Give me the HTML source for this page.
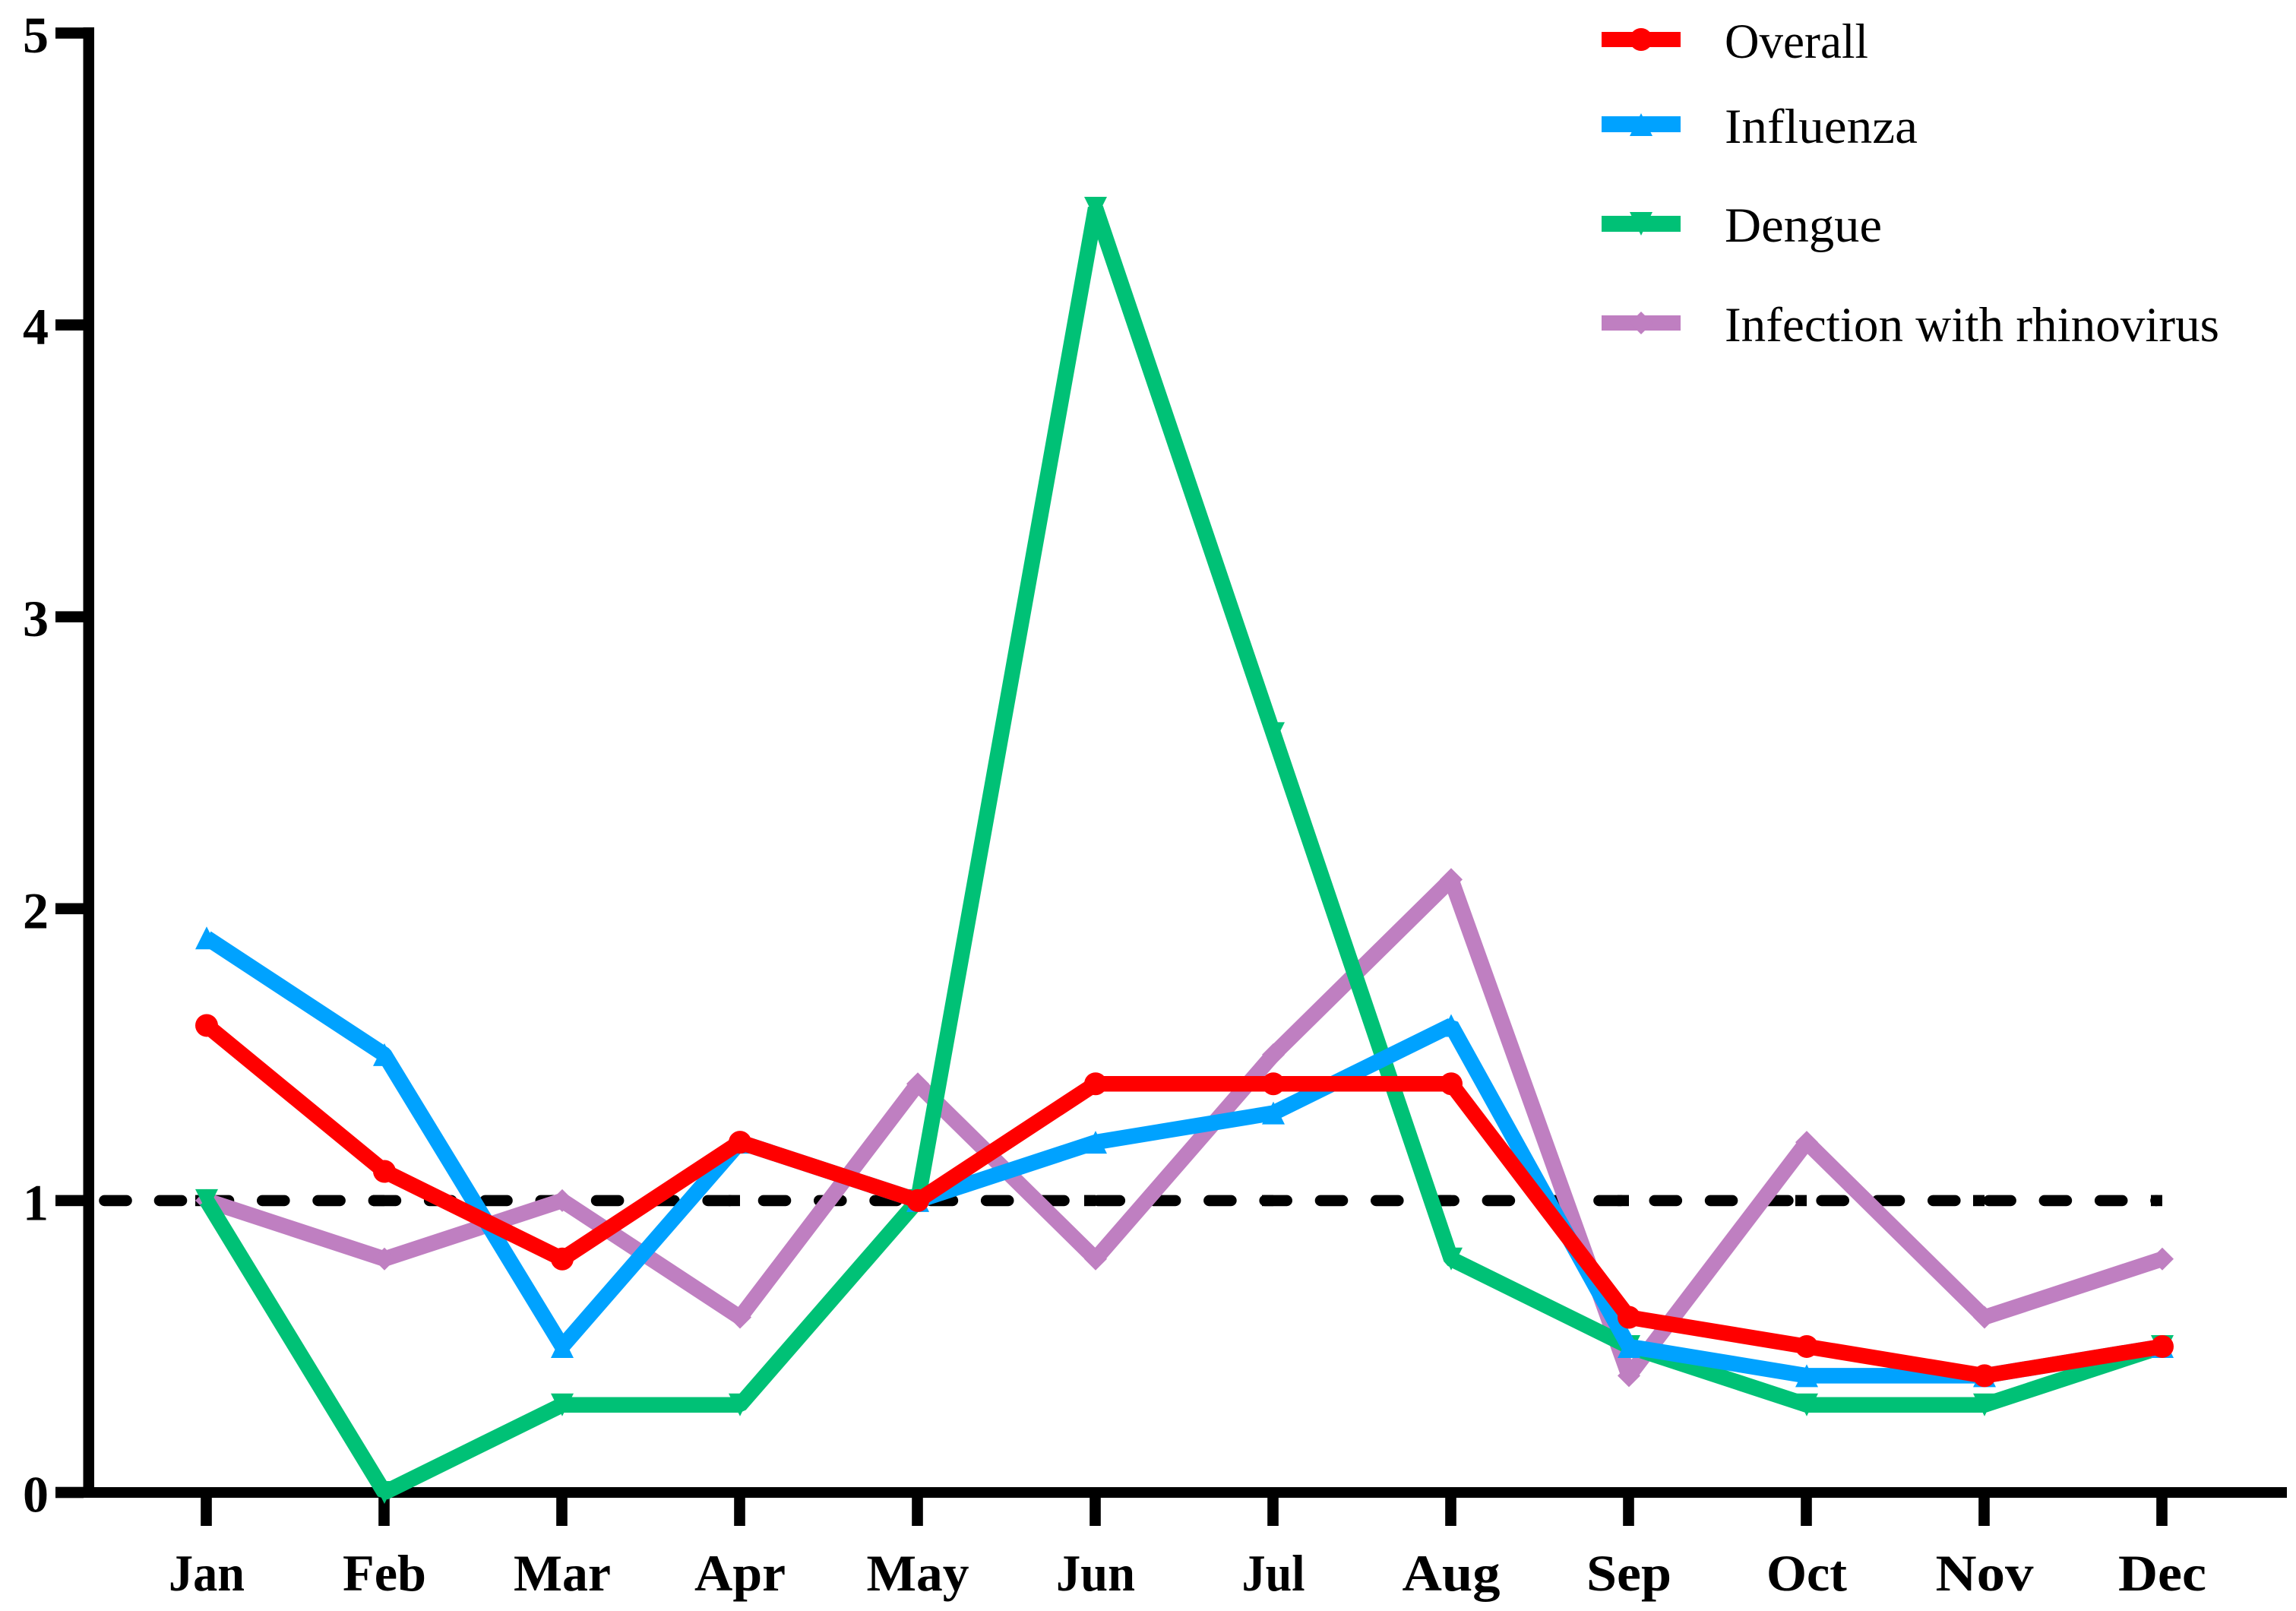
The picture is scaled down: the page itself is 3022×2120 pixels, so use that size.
<!DOCTYPE html>
<html lang="en">
<head>
<meta charset="utf-8">
<title>Monthly ratio by infection type</title>
<style>
  html, body { margin: 0; padding: 0; background: #fff; }
  svg { display: block; }
  text { font-family: "Liberation Serif", serif; fill: #000; }
  .tick-label { font-size: 68px; font-weight: bold; }
  .legend-label { font-size: 65px; }
</style>
</head>
<body>
<svg id="chart" xmlns="http://www.w3.org/2000/svg" width="3022" height="2120" viewBox="0 0 3022 2120">
  <rect x="0" y="0" width="3022" height="2120" fill="#fff"/>
  <g id="reference-layer"></g>
  <g id="series-layer"></g>
  <g id="axis-layer"></g>
  <g>
    <g>
      <rect x="2108" y="42" width="104" height="20" fill="#ff0000"/>
      <circle cx="2160" cy="52" r="15" fill="#ff0000"/>
      <text class="legend-label" x="2270" y="76" textLength="189" lengthAdjust="spacingAndGlyphs">Overall</text>
    </g>
    <g>
      <rect x="2108" y="153" width="104" height="21" fill="#00a2ff"/>
      <polygon points="2160,149 2175,179 2145,179" fill="#00a2ff"/>
      <text class="legend-label" x="2270" y="188" textLength="254" lengthAdjust="spacingAndGlyphs">Influenza</text>
    </g>
    <g>
      <rect x="2108" y="284" width="104" height="21" fill="#00c176"/>
      <polygon points="2145,279 2175,279 2160,310" fill="#00c176"/>
      <text class="legend-label" x="2270" y="318" textLength="207" lengthAdjust="spacingAndGlyphs">Dengue</text>
    </g>
    <g>
      <rect x="2108" y="415" width="104" height="20" fill="#bf7fc1"/>
      <polygon points="2160,410 2175,425 2160,440 2145,425" fill="#bf7fc1"/>
      <text class="legend-label" x="2270" y="449" textLength="651" lengthAdjust="spacingAndGlyphs">Infection with rhinovirus</text>
    </g>
  </g>
</svg>
<script>
const months = ["Jan", "Feb", "Mar", "Apr", "May", "Jun", "Jul", "Aug", "Sep", "Oct", "Nov", "Dec"];
const yTickValues = [0, 1, 2, 3, 4, 5];
const referenceValues = [1, 1, 1, 1, 1, 1, 1, 1, 1, 1, 1, 1];
const overallValues = [1.6, 1.1, 0.8, 1.2, 1.0, 1.4, 1.4, 1.4, 0.6, 0.5, 0.4, 0.5];
const influenzaValues = [1.9, 1.5, 0.5, 1.2, 1.0, 1.2, 1.3, 1.6, 0.5, 0.4, 0.4, 0.5];
const dengueValues = [1.0, 0, 0.3, 0.3, 1.0, 4.4, 2.6, 0.8, 0.5, 0.3, 0.3, 0.5];
const rhinovirusValues = [1.0, 0.8, 1.0, 0.6, 1.4, 0.8, 1.5, 2.1, 0.4, 1.2, 0.6, 0.8];

const SVG_NS = "http://www.w3.org/2000/svg";
const MARKER = 15;
function xScale(i) { return 272 + 234 * i; }
function yScale(v) { return 1964 - 384.1 * v; }
function make(tag, parent, attrs) {
  const el = document.createElementNS(SVG_NS, tag);
  for (const k in attrs) { el.setAttribute(k, attrs[k]); }
  parent.appendChild(el);
  return el;
}

const referenceLayer = document.getElementById("reference-layer");
const seriesLayer = document.getElementById("series-layer");
const axisLayer = document.getElementById("axis-layer");

/* dashed reference series */
const refY = yScale(referenceValues[0]);
const refLead = make("line", referenceLayer, {
  x1: xScale(0) - 134.5, x2: xScale(0) - 33, y1: refY, y2: refY,
  stroke: "#000", "stroke-width": 14.6, "stroke-linecap": "round", "stroke-dasharray": "29 43.5"
});


const refLine = make("line", referenceLayer, {
  x1: xScale(0), x2: xScale(months.length - 1) - 7.5, y1: refY, y2: refY,
  stroke: "#000", "stroke-width": 14.6, "stroke-linecap": "round", "stroke-dasharray": "29 44.3"
});


referenceValues.forEach(function (v, i) {
  const mark = make("rect", referenceLayer, {
    x: xScale(i) - MARKER, y: yScale(v) - 7.3, width: MARKER, height: 14.6, fill: "#000"
  });
  
  
});

/* series */
function drawSeries(values, color, shape, seriesName) {
  const group = make("g", seriesLayer, {});
  
  
  const pts = values.map(function (v, i) { return xScale(i) + "," + yScale(v); }).join(" ");
  const line = make("polyline", group, {
    points: pts, fill: "none", stroke: color, "stroke-width": 20.5,
    "stroke-linejoin": "bevel", "stroke-linecap": "butt"
  });
  
  
  values.forEach(function (v, i) {
    const cx = xScale(i), cy = yScale(v), r = MARKER;
    let m;
    if (shape === "circle") {
      m = make("circle", group, { cx: cx, cy: cy, r: r, fill: color });
    } else if (shape === "up") {
      m = make("polygon", group, { points: [cx, cy - r, cx + r, cy + r, cx - r, cy + r].join(" "), fill: color });
    } else if (shape === "down") {
      m = make("polygon", group, { points: [cx - r, cy - r, cx + r, cy - r, cx, cy + r].join(" "), fill: color });
    } else {
      m = make("polygon", group, { points: [cx, cy - r, cx + r, cy, cx, cy + r, cx - r, cy].join(" "), fill: color });
    }
    
    
  });
}
drawSeries(rhinovirusValues, "#bf7fc1", "diamond", "rhinovirus");
drawSeries(dengueValues, "#00c176", "down", "dengue");
drawSeries(influenzaValues, "#00a2ff", "up", "influenza");
drawSeries(overallValues, "#ff0000", "circle", "overall");

/* axes: drawn beneath the series where the dengue tip touches the x axis */
seriesLayer.parentNode.insertBefore(axisLayer, referenceLayer);
const yAxis = make("rect", axisLayer, { x: 109.5, y: yScale(5) - 7.5, width: 14.5, height: yScale(0) - yScale(5) + 14.5, fill: "#000" });


const xAxis = make("rect", axisLayer, { x: 73, y: yScale(0) - 7, width: 2937, height: 14, fill: "#000" });



yTickValues.forEach(function (v) {
  const tick = make("rect", axisLayer, { x: 73, y: yScale(v) - 7.3, width: 37, height: 14.6, fill: "#000" });
  
  
  const label = make("text", axisLayer, { x: 64, y: yScale(v) + 25.5, "text-anchor": "end", "class": "tick-label" });
  label.textContent = String(v);
  
  
});

/* label fit: the original face is wider than Liberation Serif Bold */
const labelFit = { Jan: 100, Feb: 110, Mar: 128, Apr: 120, May: 135, Jun: 104, Jul: 83, Aug: 129, Sep: 112, Oct: 106, Nov: 129, Dec: 116 };
months.forEach(function (name, i) {
  const cx = xScale(i) - 0.5;
  const tick = make("rect", axisLayer, { x: cx - 7.3, y: yScale(0), width: 14.6, height: 44, fill: "#000" });
  
  
  const label = make("text", axisLayer, { x: cx + 0.5, y: 2093, "text-anchor": "middle", "class": "tick-label" });
  label.textContent = name;
  if (labelFit[name]) {
    label.setAttribute("textLength", labelFit[name]);
    label.setAttribute("lengthAdjust", "spacingAndGlyphs");
  }
  
  
});
</script>
</body>
</html>
